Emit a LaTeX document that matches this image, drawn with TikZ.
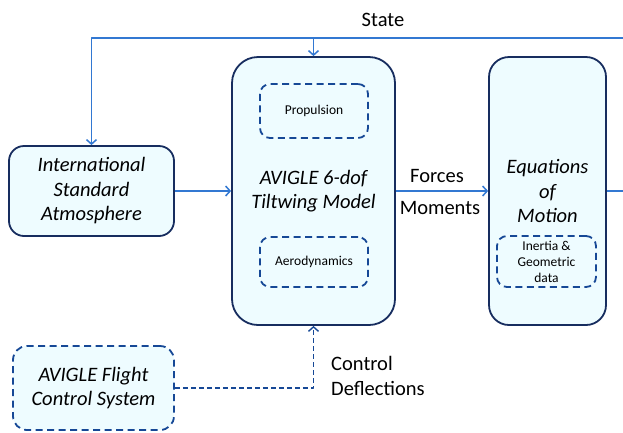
\documentclass[tikz,border=0pt]{standalone}
\usepackage{fontspec}
\setmainfont{Carlito}
\usetikzlibrary{arrows.meta}
\definecolor{boxline}{RGB}{23,45,95}
\definecolor{boxfill}{RGB}{238,252,255}
\definecolor{flowblue}{RGB}{50,120,210}
\definecolor{dashblue}{RGB}{22,72,150}
\begin{document}
\begin{tikzpicture}[x=1pt, y=-1pt, line join=round, >={Straight Barb[length=4.5pt,width=10pt]},
		block/.style={draw=boxline, line width=1.8pt, fill=boxfill, rounded corners=18pt, align=center, inner sep=0pt, font=\fontsize{20.5}{24.5}\selectfont\itshape},
		sub/.style={draw=dashblue, line width=1.8pt, dash pattern=on 7pt off 4.5pt, rounded corners=10pt, align=center, inner sep=0pt, font=\fontsize{13.5}{16}\selectfont},
		flow/.style={draw=flowblue, line width=1.5pt},
		lbl/.style={font=\fontsize{20.5}{24.5}\selectfont, inner sep=0pt}]
	\useasboundingbox (0,0) rectangle (623,432);
	\clip (0,0) rectangle (623,432);
	\node[block, minimum width=165pt, minimum height=90pt, rounded corners=15pt] (isa) at (91.5,191) {International\\Standard\\Atmosphere};
	\node[block, minimum width=163pt, minimum height=268pt, rounded corners=26pt] (avigle) at (313.5,191) {AVIGLE 6-dof\\Tiltwing Model};
	\node[sub, minimum width=108pt, minimum height=54pt] (prop) at (314,111) {Propulsion};
	\node[sub, minimum width=108pt, minimum height=50pt] (aero) at (314,262) {Aerodynamics};
	\node[block, minimum width=117pt, minimum height=268pt, rounded corners=20pt] (eom) at (547.5,191) {Equations\\of\\Motion};
	\node[sub, minimum width=99pt, minimum height=51pt] (inertia) at (546.5,261.5) {Inertia \&\\Geometric\\data};
	\node[block, draw=dashblue, dash pattern=on 7pt off 4.5pt, minimum width=161pt, minimum height=84pt, rounded corners=14pt, font=\fontsize{20.5}{24}\selectfont\itshape] (fcs) at (93.5,388) {AVIGLE Flight\\Control System};
	\node[lbl] (state) at (383,20) {State};
	\node[lbl] (forces) at (437,176) {Forces};
	\node[lbl] (moments) at (440,208) {Moments};
	\node[lbl, anchor=west, align=left, font=\fontsize{20.5}{25}\selectfont] (ctrl) at (331,376) {Control\\Deflections};
	\coordinate (loop) at (640,38);
	\coordinate (bend) at (313.5,388);
	% signal flow
	\draw[flow, ->] (isa.east) -- (avigle.west |- isa.east);
	\draw[flow, ->] (avigle.east |- eom.west) -- (eom.west);
	\draw[flow, ->] (eom.east) -| (loop) -| (isa.north);
	\draw[flow, ->] (loop -| avigle.north) -- (avigle.north);
	\draw[dashblue, line width=1.4pt, dash pattern=on 5pt off 3pt, ->] (fcs.east |- bend) -- (bend) -- (avigle.south);
\end{tikzpicture}
\end{document}
